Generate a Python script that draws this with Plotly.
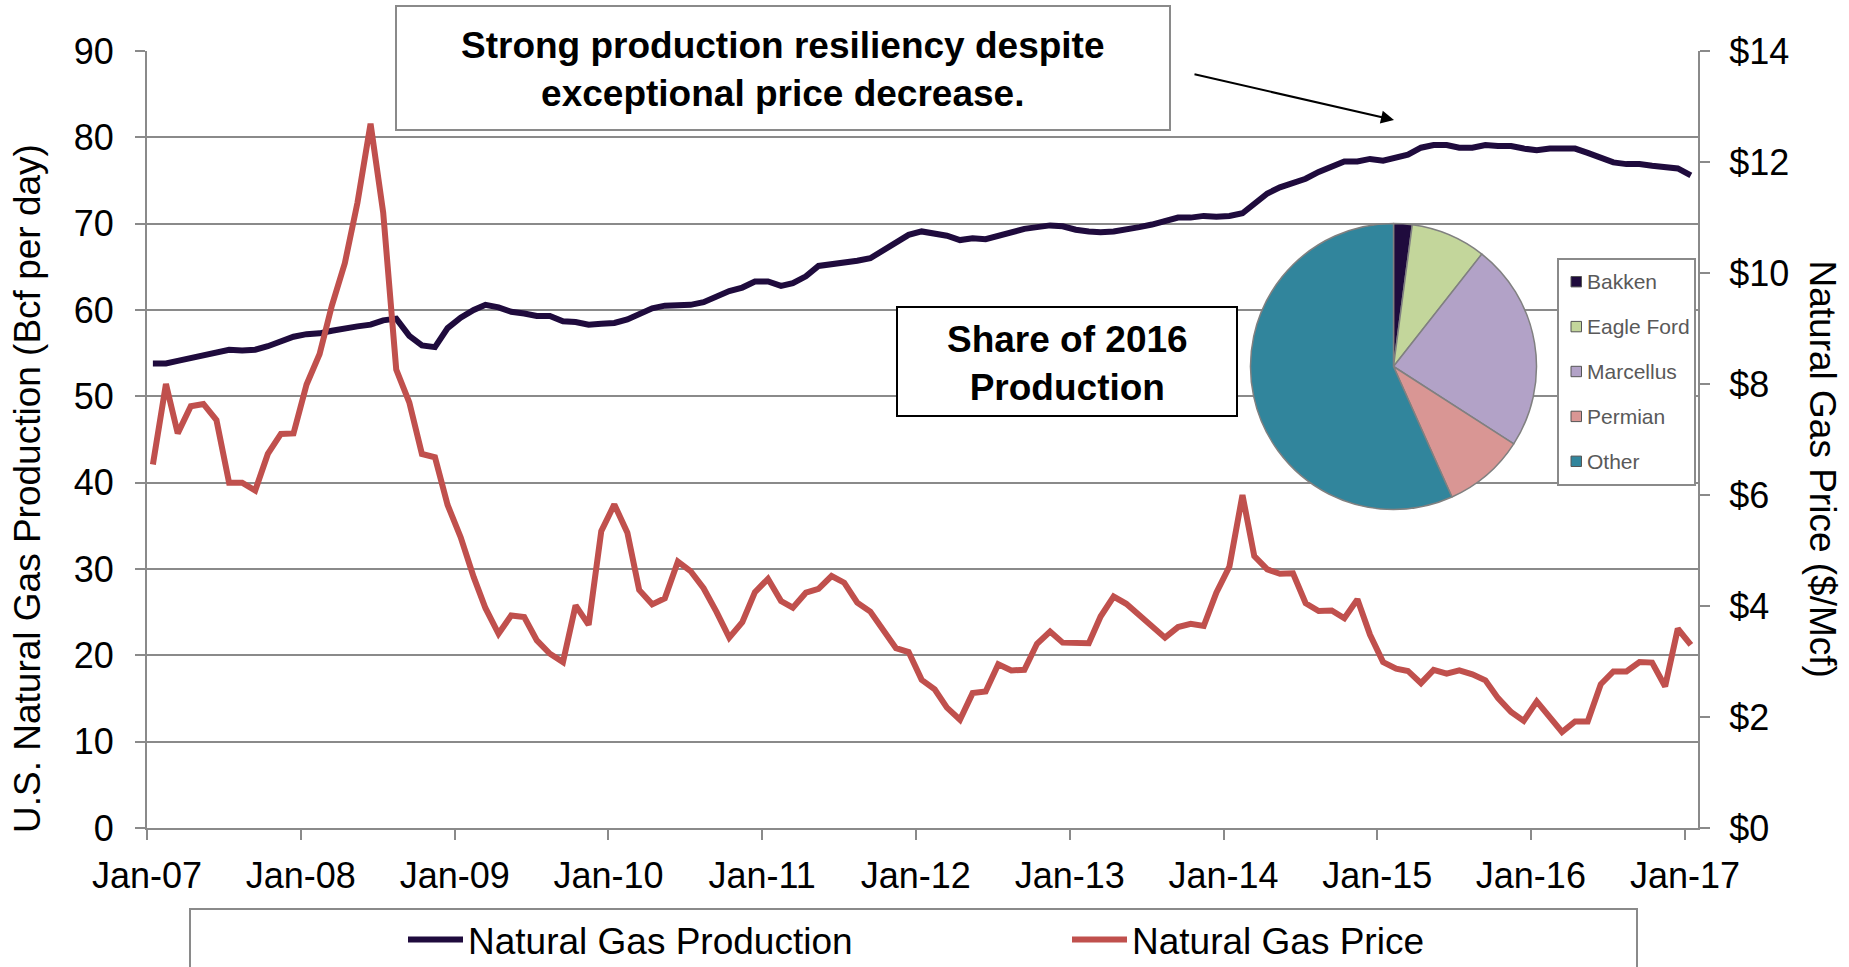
import plotly.graph_objects as go

# ---------------- data ----------------
months = [f"{2007 + i // 12}-{i % 12 + 1:02d}-15" for i in range(121)]

production = [
    53.8, 53.8, 54.1, 54.4, 54.8, 55.1, 55.4, 55.3, 55.4, 55.8, 56.4, 56.9,   # 2007
    57.2, 57.3, 57.6, 57.9, 58.1, 58.3, 58.8, 59.0, 57.0, 55.9, 55.7, 57.9,   # 2008
    59.1, 60.0, 60.6, 60.3, 59.8, 59.6, 59.3, 59.3, 58.7, 58.6, 58.3, 58.4,   # 2009
    58.5, 58.9, 59.6, 60.2, 60.5, 60.5, 60.6, 60.9, 61.5, 62.2, 62.6, 63.3,   # 2010
    63.3, 62.8, 63.1, 63.9, 65.1, 65.3, 65.4, 65.7, 66.0, 66.9, 67.8, 68.7,   # 2011
    69.1, 68.9, 68.6, 68.1, 68.3, 68.2, 68.6, 69.0, 69.4, 69.6, 69.8, 69.7,   # 2012
    69.3, 69.1, 69.0, 69.1, 69.3, 69.6, 69.9, 70.3, 70.7, 70.7, 70.9, 70.8,   # 2013
    70.9, 71.2, 72.3, 73.5, 74.2, 74.7, 75.2, 76.0, 76.7, 77.2, 77.2, 77.5,   # 2014
    77.3, 77.6, 78.0, 78.8, 79.1, 79.1, 78.8, 78.8, 79.1, 79.0, 79.0, 78.7,   # 2015
    78.5, 78.7, 78.7, 78.7, 78.2, 77.7, 77.1, 76.9, 76.9, 76.7, 76.6, 76.4,   # 2016
    75.6,                                                                     # 2017
]

price = [
    6.55, 8.00, 7.11, 7.60, 7.64, 7.35, 6.22, 6.22, 6.08, 6.74, 7.10, 7.11,   # 2007
    7.99, 8.54, 9.41, 10.18, 11.27, 12.69, 11.09, 8.26, 7.67, 6.74, 6.68, 5.82,  # 2008
    5.24, 4.52, 3.96, 3.50, 3.83, 3.80, 3.38, 3.14, 2.99, 4.01, 3.66, 5.35,   # 2009
    5.83, 5.32, 4.29, 4.03, 4.14, 4.80, 4.63, 4.32, 3.89, 3.43, 3.71, 4.25,   # 2010
    4.49, 4.09, 3.97, 4.24, 4.31, 4.54, 4.42, 4.06, 3.90, 3.57, 3.24, 3.17,   # 2011
    2.67, 2.50, 2.17, 1.95, 2.43, 2.46, 2.95, 2.84, 2.85, 3.32, 3.54, 3.34,   # 2012
    3.33, 3.33, 3.81, 4.17, 4.04, 3.83, 3.62, 3.43, 3.62, 3.68, 3.64, 4.24,   # 2013
    4.71, 6.00, 4.90, 4.66, 4.58, 4.59, 4.05, 3.91, 3.92, 3.78, 4.12, 3.48,   # 2014
    2.99, 2.87, 2.83, 2.61, 2.85, 2.78, 2.84, 2.77, 2.66, 2.34, 2.09, 1.93,   # 2015
    2.28, 1.99, 1.73, 1.92, 1.92, 2.59, 2.82, 2.82, 2.99, 2.98, 2.55, 3.59,   # 2016
    3.30,                                                                     # 2017
]

x_tick_vals = [f"{y}-01-01" for y in range(2007, 2018)]

pie_labels = ["Bakken", "Eagle Ford", "Marcellus", "Permian", "Other"]
pie_values = [2.1, 8.5, 23.5, 9.2, 56.7]
pie_colors = ["#1f0b3d", "#c3d69b", "#b2a2c7", "#d99694", "#31859c"]

# ---------------- styling ----------------
FONT = "Liberation Sans, Arial, sans-serif"
GRAY = "#8a8a8a"
PROD_COLOR = "#1f0b3d"
PRICE_COLOR = "#c0504d"

W, H = 1849, 967
L, R, T, B = 147, 1698, 51, 828   # plot-area edges in pixels


def px(v):
    return (v - L) / (R - L)


def py(v):
    return (B - v) / (B - T)


fig = go.Figure()
fig.add_trace(go.Scatter(
    x=months, y=production, name="Natural Gas Production", mode="lines",
    line=dict(color=PROD_COLOR, width=6), yaxis="y"))
fig.add_trace(go.Scatter(
    x=months, y=price, name="Natural Gas Price", mode="lines",
    line=dict(color=PRICE_COLOR, width=6), yaxis="y2"))

pcx, pcy, pr = 1393.5, 366.5, 143
fig.add_trace(go.Pie(
    labels=pie_labels, values=pie_values, sort=False, direction="clockwise",
    rotation=0, textinfo="none", showlegend=False,
    marker=dict(colors=pie_colors, line=dict(color="#808080", width=1.5)),
    domain=dict(x=[px(pcx - pr), px(pcx + pr)], y=[py(pcy + pr), py(pcy - pr)])))

axis_common = dict(showline=True, linecolor=GRAY, linewidth=2, ticks="outside",
                   ticklen=10, tickwidth=2, tickcolor=GRAY, zeroline=False,
                   tickfont=dict(size=36, color="black", family=FONT))

fig.update_layout(
    width=W, height=H,
    margin=dict(l=L, r=W - R, t=T, b=H - B, autoexpand=False),
    paper_bgcolor="white", plot_bgcolor="white",
    font=dict(family=FONT, color="black"),
    xaxis=dict(type="date", range=["2007-01-01", "2017-02-01"],
               tickvals=x_tick_vals, tickformat="%b-%y", showgrid=False,
               ticklabelstandoff=5, **axis_common),
    yaxis=dict(range=[0, 90], dtick=10, showgrid=True, gridcolor=GRAY,
               gridwidth=2, ticklabelstandoff=14, **axis_common),
    yaxis2=dict(range=[0, 14], dtick=2, tickprefix="$", overlaying="y",
                side="right", showgrid=False, ticklabelstandoff=12, **axis_common),
    showlegend=True,
    legend=dict(orientation="h", x=px(403), xanchor="left", y=py(940),
                yanchor="middle", font=dict(size=37, family=FONT, color="black"),
                itemwidth=55, entrywidth=594, entrywidthmode="pixels",
                bgcolor="rgba(0,0,0,0)", borderwidth=0, traceorder="normal"),
)

shapes = []
# headline box
shapes.append(dict(type="rect", xref="paper", yref="paper",
                   x0=px(396), x1=px(1170), y0=py(130), y1=py(6),
                   line=dict(color=GRAY, width=2), fillcolor="white", layer="above"))
# "Share of 2016 Production" box
shapes.append(dict(type="rect", xref="paper", yref="paper",
                   x0=px(897), x1=px(1237), y0=py(416), y1=py(307),
                   line=dict(color="black", width=2), fillcolor="white", layer="above"))
# bottom legend box
shapes.append(dict(type="rect", xref="paper", yref="paper",
                   x0=px(190), x1=px(1637), y0=py(1000), y1=py(909),
                   line=dict(color=GRAY, width=2), fillcolor="white", layer="above"))
# pie legend box
shapes.append(dict(type="rect", xref="paper", yref="paper",
                   x0=px(1558), x1=px(1695), y0=py(485), y1=py(259),
                   line=dict(color=GRAY, width=2), fillcolor="white", layer="above"))

annotations = []
row0, row_gap = 281.7, 44.9
for i, (lab, col) in enumerate(zip(pie_labels, pie_colors)):
    cy = row0 + i * row_gap
    shapes.append(dict(type="rect", xref="paper", yref="paper",
                       x0=px(1571), x1=px(1581.5), y0=py(cy + 5.2), y1=py(cy - 5.2),
                       line=dict(color="#555555", width=1), fillcolor=col, layer="above"))
    annotations.append(dict(text=lab, xref="paper", yref="paper", x=px(1584.5),
                            y=py(cy), xanchor="left", yanchor="middle", showarrow=False,
                            font=dict(size=21, color="#595959", family=FONT)))

annotations += [
    dict(text="<b>Strong production resiliency despite<br>exceptional price decrease.</b>",
         xref="paper", yref="paper", x=px(783), y=py(69.5), xanchor="center",
         yanchor="middle", showarrow=False, font=dict(size=37, family=FONT, color="black")),
    dict(text="", xref="paper", yref="paper", x=px(1394), y=py(120),
         ax=-201, ay=-46, showarrow=True, arrowhead=2, arrowsize=1.3,
         arrowwidth=2, arrowcolor="black"),
    dict(text="<b>Share of 2016<br>Production</b>", xref="paper", yref="paper",
         x=px(1067), y=py(363.5), xanchor="center", yanchor="middle", showarrow=False,
         font=dict(size=37, family=FONT, color="black")),
    dict(text="U.S. Natural Gas Production (Bcf per day)", xref="paper", yref="paper",
         x=px(27), y=py(489), xanchor="center", yanchor="middle", textangle=-90,
         showarrow=False, font=dict(size=37, family=FONT, color="black")),
    dict(text="Natural Gas Price ($/Mcf)", xref="paper", yref="paper",
         x=px(1822), y=py(468.5), xanchor="center", yanchor="middle", textangle=90,
         showarrow=False, font=dict(size=37, family=FONT, color="black")),
]

fig.update_layout(shapes=shapes, annotations=annotations)

fig.write_html("out.html", config={"displayModeBar": False},
               post_script="document.body.style.margin='0';document.body.style.overflow='hidden';")
